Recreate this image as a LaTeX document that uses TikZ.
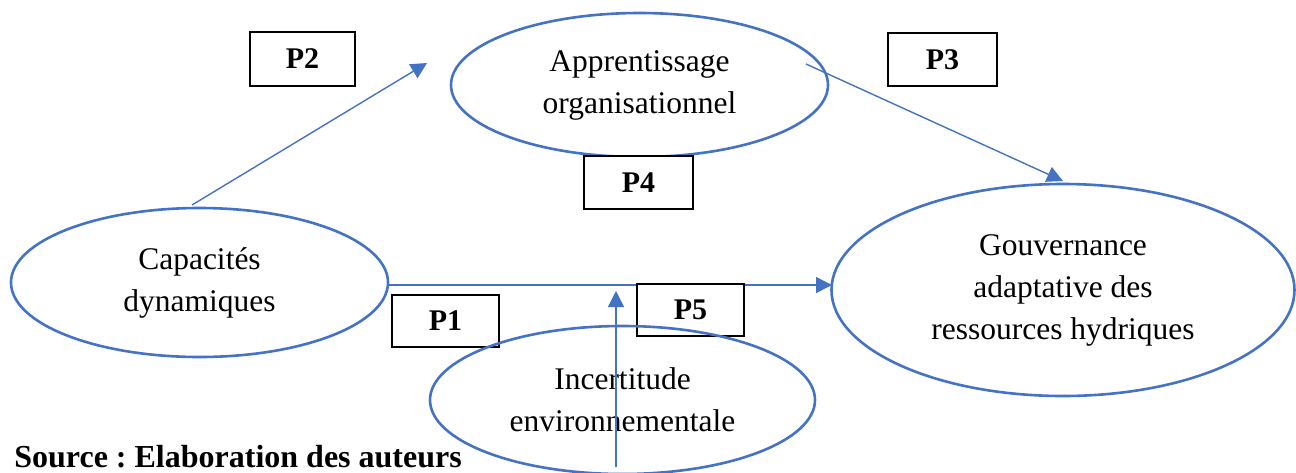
\documentclass[tikz,border=0pt]{standalone}
\usepackage{fontspec}
\setmainfont{Liberation Serif}
\usetikzlibrary{shapes.geometric,arrows.meta}
\definecolor{wblue}{HTML}{4472C4}
\frenchspacing
\tikzset{
  oval/.style={ellipse, draw=wblue, line width=1.3pt, inner sep=0pt, align=center,
    font=\fontsize{15.75pt}{21pt}\selectfont},
  pbox/.style={draw=black, line width=0.65pt, fill=white, inner sep=0pt,
    font=\fontsize{15pt}{17pt}\selectfont\bfseries},
  link/.style={draw=wblue, line width=0.7pt, -{Triangle[length=8pt,width=8pt]}}
}
\begin{document}
\begin{tikzpicture}[x=0.5pt,y=-0.5pt]
\useasboundingbox (0,0) rectangle (1296,472);
% ellipses
\node[oval, minimum width=188.5pt, minimum height=72pt] (A) at (639.5,85) {Apprentissage\\organisationnel};
\node[oval, minimum width=188.5pt, minimum height=74.5pt] (C) at (199.5,282.5) {Capacités\\dynamiques};
\node[oval, minimum width=231.5pt, minimum height=106pt] (G) at (1063,290) {Gouvernance\\adaptative des\\ressources hydriques};
% connector end points
\coordinate (c2s) at (192,205);
\coordinate (c2e) at (427,63);
\coordinate (c3s) at (806,64);
\coordinate (c3e) at (1063,181);
\coordinate (c1s) at (388,285);
\coordinate (c1e) at (832,285);
\coordinate (c5s) at (616,467);
\coordinate (c5e) at (616,291);
% arrows
\draw[link] (c2s) -- (c2e);
\draw[link] (c3s) -- (c3e);
\draw[link] (c1s) -- (c1e);
% boxes
\node[pbox, minimum width=52.5pt, minimum height=27pt] (P2) at (302.5,59) {P2};
\node[pbox, minimum width=54.5pt, minimum height=26.5pt] (P3) at (942.5,59.5) {P3};
\node[pbox, minimum width=54.5pt, minimum height=26.5pt] (P4) at (638.5,182.5) {P4};
\node[pbox, minimum width=53.5pt, minimum height=26pt] (P1) at (445.5,321) {P1};
\node[pbox, minimum width=53.5pt, minimum height=26pt] (P5) at (690.5,310) {P5};
% incertitude ellipse
\node[oval, minimum width=192.5pt, minimum height=74pt] (I) at (622.5,400) {Incertitude\\environnementale};
\draw[link] (c5s) -- (c5e);
% source
\node[anchor=base west, inner sep=0pt, font=\fontsize{16pt}{18pt}\selectfont\bfseries] (src) at (14,467) {Source : Elaboration des auteurs};
\end{tikzpicture}
\end{document}
